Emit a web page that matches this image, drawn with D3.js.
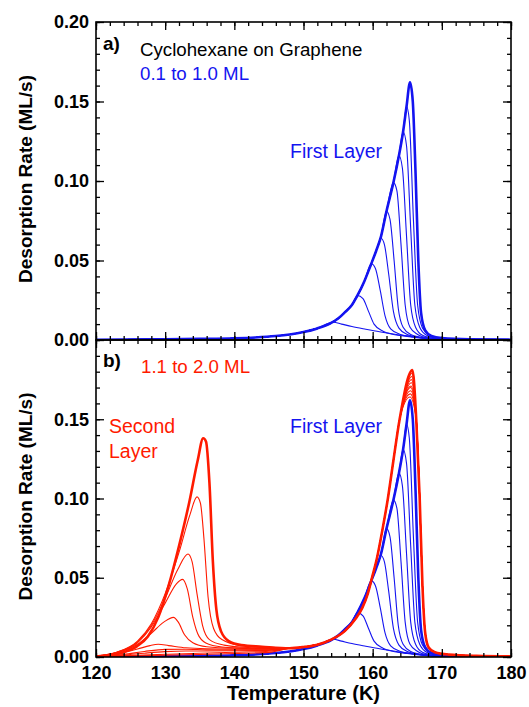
<!DOCTYPE html>
<html>
<head>
<meta charset="utf-8">
<script src="https://cdn.jsdelivr.net/npm/d3@7"></script>
<style>
  body { margin: 0; background: #fff; }
  svg { display: block; font-family: "Liberation Sans", Arial, Helvetica, sans-serif; }
</style>
</head>
<body>
<svg id="chart" width="529" height="707"></svg>
<script>
// ---- data ----
const blueCoverages = ["0.1", "0.2", "0.3", "0.4", "0.5", "0.6", "0.7", "0.8", "0.9", "1.0"];
const redCoverages = ["1.1", "1.2", "1.3", "1.4", "1.5", "1.6", "1.7", "1.8", "1.9", "2.0"];

// common leading edge of the first layer (blue, 1.0 ML)
const blueEdge = [
  [120, 0.0002], [130, 0.0004], [135, 0.0007], [140, 0.0011], [143, 0.0016], [146, 0.0025],
  [148, 0.0035], [150, 0.005], [152, 0.0073], [154, 0.0107], [155, 0.0135], [156, 0.0175],
  [157, 0.022], [157.8, 0.028], [158.8, 0.037], [159.8, 0.048], [160.5, 0.056], [161.2, 0.065],
  [162, 0.081], [163, 0.099], [163.8, 0.116], [164.4, 0.131], [164.9, 0.147], [165.4, 0.162]
];
// where each blue curve leaves the common edge
const blueCut = [152.5, 157.8, 159.8, 161.2, 162.0, 163.0, 163.8, 164.4, 164.9, 165.4];
// peak and trailing side of each blue curve
const blueTops = [
  [[153.4, 0.0102], [154.3, 0.0112], [155.5, 0.0100], [157, 0.0085], [159, 0.0068], [161, 0.0052], [163, 0.0038], [165, 0.0025], [167, 0.0014], [170, 0.0006], [175, 0.0002], [180, 0.0001]],
  [[157.8, 0.028], [158.6, 0.026], [159.4, 0.018], [160.2, 0.010], [161.5, 0.0055], [163, 0.0035], [165, 0.0022], [167, 0.0012], [170, 0.0005], [180, 0.0001]],
  [[159.8, 0.048], [160.4, 0.045], [161.1, 0.031], [161.8, 0.015], [162.6, 0.007], [164, 0.0035], [166, 0.002], [168, 0.0009], [171, 0.0003], [180, 0.0001]],
  [[161.2, 0.064], [161.7, 0.060], [162.3, 0.042], [163, 0.018], [163.8, 0.0075], [165, 0.0035], [167, 0.0015], [169, 0.0006], [180, 0.0001]],
  [[162.0, 0.081], [162.5, 0.076], [163.1, 0.050], [163.7, 0.020], [164.4, 0.008], [165.5, 0.0035], [167.5, 0.0013], [170, 0.0005], [180, 0.0001]],
  [[163.0, 0.099], [163.5, 0.094], [164.1, 0.060], [164.7, 0.022], [165.4, 0.008], [166.5, 0.0035], [168, 0.0013], [170, 0.0005], [180, 0.0001]],
  [[163.8, 0.116], [164.3, 0.108], [164.9, 0.065], [165.5, 0.022], [166.2, 0.008], [167.2, 0.003], [169, 0.0011], [172, 0.0003], [180, 0.0001]],
  [[164.4, 0.131], [164.9, 0.122], [165.5, 0.070], [166.1, 0.022], [166.8, 0.008], [167.8, 0.003], [169.5, 0.001], [173, 0.0003], [180, 0.0001]],
  [[164.9, 0.147], [165.3, 0.138], [165.9, 0.075], [166.5, 0.022], [167.2, 0.0075], [168.2, 0.003], [170, 0.001], [174, 0.0003], [180, 0.0001]],
  [[165.4, 0.162], [165.8, 0.150], [166.2, 0.105], [166.6, 0.050], [167.0, 0.017], [167.6, 0.006], [168.5, 0.0025], [170, 0.0012], [174, 0.0004], [180, 0.0002]]
];

// second-layer region (120-148 K) of each red curve
const redLow = [
  [[120, 0.0002], [125, 0.0006], [130, 0.0011], [135, 0.0016], [140, 0.0022], [145, 0.0029]],
  [[120, 0.0003], [125, 0.0009], [130, 0.0017], [135, 0.0024], [140, 0.003], [145, 0.0036]],
  [[120, 0.0004], [124, 0.0012], [127, 0.0024], [130, 0.0034], [133, 0.0038], [136, 0.0038], [140, 0.0039], [145, 0.0042]],
  [[120, 0.0005], [124, 0.0016], [127, 0.0035], [130, 0.0048], [133, 0.0049], [136, 0.0045], [140, 0.0044], [145, 0.0046]],
  [[120, 0.0006], [123, 0.002], [126, 0.005], [127.8, 0.0072], [129.0, 0.008], [130.5, 0.0072], [133, 0.0058], [136, 0.0052], [140, 0.005], [145, 0.005]],
  [[120, 0.0006], [123, 0.0025], [126, 0.008], [128, 0.015], [129.8, 0.022], [131.2, 0.025], [131.9, 0.022], [132.8, 0.014], [134, 0.009], [136, 0.0065], [140, 0.0055], [145, 0.0052]],
  [[120, 0.0006], [123, 0.0028], [126, 0.009], [128, 0.019], [130, 0.034], [131.6, 0.046], [132.5, 0.049], [133.2, 0.043], [134, 0.025], [134.9, 0.013], [136.3, 0.008], [139, 0.006], [143, 0.0055]],
  [[120, 0.0006], [123, 0.003], [126, 0.0095], [128, 0.02], [130, 0.037], [131.8, 0.055], [133.3, 0.065], [133.9, 0.06], [134.6, 0.04], [135.4, 0.02], [136.4, 0.011], [138.5, 0.0075], [142, 0.006]],
  [[120, 0.0005], [123, 0.003], [126, 0.01], [128, 0.021], [130, 0.04], [132, 0.066], [133.6, 0.09], [134.6, 0.101], [135.1, 0.097], [135.6, 0.075], [136.2, 0.038], [137, 0.018], [138.2, 0.011], [141, 0.0072], [145, 0.0062]],
  [[120, 0.0003], [122, 0.0012], [124, 0.003], [126, 0.007], [127.5, 0.013], [129, 0.025], [130.5, 0.045], [132, 0.07], [133.5, 0.098], [134.7, 0.124], [135.5, 0.138], [135.9, 0.136], [136.4, 0.11], [136.9, 0.06], [137.4, 0.03], [138.1, 0.016], [139.2, 0.01], [141, 0.0075], [144, 0.0065]]
];
// common first-layer leading edge of the red curves
const redEdge = [
  [148, 0.0055], [150, 0.0063], [152, 0.0078], [154, 0.011], [156, 0.0165], [157.5, 0.024],
  [158.5, 0.031], [159.3, 0.040], [159.9, 0.050], [160.6, 0.062], [161.4, 0.080], [162.2, 0.100],
  [163.0, 0.124], [163.9, 0.150]
];
const redPeakT = [165.4, 165.45, 165.5, 165.5, 165.55, 165.6, 165.6, 165.65, 165.7, 165.75];
const redPeakRate = [0.164, 0.166, 0.168, 0.170, 0.171, 0.173, 0.175, 0.177, 0.179, 0.181];
// common falling edge of the red curves
const redFall = [
  [166.3, 0.150], [166.8, 0.100], [167.2, 0.045], [167.6, 0.015], [168.1, 0.006], [169, 0.003],
  [171, 0.0015], [175, 0.0007], [180, 0.0004]
];

const xTicks = [120, 130, 140, 150, 160, 170, 180];
const yTicks = [0, 0.05, 0.10, 0.15, 0.20];

// ---- build the series ----
const blueSeries = blueCoverages.map((c, i) =>
  blueEdge.filter(d => d[0] < blueCut[i] - 0.05).concat(blueTops[i]));
const redSeries = redCoverages.map((c, i) =>
  redLow[i].concat(redEdge, [[redPeakT[i], redPeakRate[i]]], redFall));

// ---- layout ----
const svg = d3.select("#chart");
const left = 96, right = 511;
const panels = [
  { id: "a", top: 22, bottom: 340 },
  { id: "b", top: 340, bottom: 657 }
];
const blue = "#1414f0";
const red = "#ff1a00";
const font = "'Liberation Sans', Arial, Helvetica, sans-serif";

const x = d3.scaleLinear().domain([120, 180]).range([left, right]);
panels.forEach(p => {
  p.y = d3.scaleLinear().domain([0, 0.2]).range([p.bottom, p.top]);
});

const line = y => d3.line()
  .x(d => x(d[0]))
  .y(d => y(d[1]))
  .curve(d3.curveMonotoneX);

// clip paths
const defs = svg.append("defs");
panels.forEach(p => {
  defs.append("clipPath").attr("id", "clip-" + p.id)
    .append("rect")
    .attr("x", left).attr("y", p.top)
    .attr("width", right - left).attr("height", p.bottom - p.top);
});

function drawSeries(p, series, color) {
  const g = svg.append("g").attr("clip-path", `url(#clip-${p.id})`);
  series.forEach((s, i) => {
    const last = i === series.length - 1;
    g.append("path")
      .datum(s)
      .attr("fill", "none")
      .attr("stroke", color)
      .attr("stroke-width", last ? 2.6 : 1.1)
      .attr("stroke-linejoin", "round")
      .attr("d", line(p.y));
  });
}

drawSeries(panels[0], blueSeries, blue);
drawSeries(panels[1], blueSeries, blue);
drawSeries(panels[1], redSeries, red);

// ---- axes (ticks pointing inward) ----
const minorX = d3.range(120, 181, 2);
const minorY = d3.range(0, 0.2001, 0.01);

panels.forEach((p, k) => {
  // bottom
  svg.append("g").attr("transform", `translate(0,${p.bottom})`)
    .call(d3.axisBottom(x).tickValues(minorX).tickSize(-4).tickFormat(""));
  svg.append("g").attr("transform", `translate(0,${p.bottom})`)
    .call(d3.axisBottom(x).tickValues(xTicks).tickSize(-8).tickPadding(9)
      .tickFormat(k === 1 ? d3.format("d") : ""));
  // top
  svg.append("g").attr("transform", `translate(0,${p.top})`)
    .call(d3.axisTop(x).tickValues(minorX).tickSize(-4).tickFormat(""));
  svg.append("g").attr("transform", `translate(0,${p.top})`)
    .call(d3.axisTop(x).tickValues(xTicks).tickSize(-8).tickFormat(""));
  // left
  svg.append("g").attr("transform", `translate(${left},0)`)
    .call(d3.axisLeft(p.y).tickValues(minorY).tickSize(-4).tickFormat(""));
  svg.append("g").attr("transform", `translate(${left},0)`)
    .call(d3.axisLeft(p.y).tickValues(k === 0 ? yTicks : yTicks.slice(0, 4))
      .tickSize(-8).tickPadding(7).tickFormat(d3.format(".2f")));
  // right
  svg.append("g").attr("transform", `translate(${right},0)`)
    .call(d3.axisRight(p.y).tickValues(minorY).tickSize(-4).tickFormat(""));
  svg.append("g").attr("transform", `translate(${right},0)`)
    .call(d3.axisRight(p.y).tickValues(yTicks).tickSize(-8).tickFormat(""));

  // frame
  svg.append("rect")
    .attr("x", left).attr("y", p.top)
    .attr("width", right - left).attr("height", p.bottom - p.top)
    .attr("fill", "none").attr("stroke", "#000").attr("stroke-width", 1.6);

  // axis title
  svg.append("text")
    .attr("transform", `translate(32,${(p.top + p.bottom) / 2 - 2}) rotate(-90)`)
    .attr("text-anchor", "middle")
    .style("font-family", font)
    .style("font-weight", "bold")
    .style("font-size", "19px")
    .text("Desorption Rate (ML/s)");
});

svg.selectAll(".domain").remove();
svg.selectAll(".tick line").attr("stroke", "#000").attr("stroke-width", 1.3);
svg.selectAll(".tick text")
  .style("font-family", font)
  .style("font-weight", "bold")
  .style("font-size", "18px")
  .attr("fill", "#000");

svg.append("text")
  .attr("x", (left + right) / 2).attr("y", 700)
  .attr("text-anchor", "middle")
  .style("font-family", font)
  .style("font-weight", "bold")
  .style("font-size", "20px")
  .text("Temperature (K)");

// ---- annotations ----
const notes = [
  { t: "a)", x: 103, y: 50, c: "#000", w: "bold", s: 19 },
  { t: "Cyclohexane on Graphene", x: 140, y: 56, c: "#000", w: "normal", s: 18.7 },
  { t: "0.1 to 1.0 ML", x: 140, y: 80, c: blue, w: "normal", s: 18.7 },
  { t: "First Layer", x: 290, y: 158, c: blue, w: "normal", s: 19.5 },
  { t: "b)", x: 103, y: 367, c: "#000", w: "bold", s: 19 },
  { t: "1.1 to 2.0 ML", x: 141, y: 373, c: red, w: "normal", s: 18.7 },
  { t: "Second", x: 109, y: 433, c: red, w: "normal", s: 19.5 },
  { t: "Layer", x: 109, y: 458, c: red, w: "normal", s: 19.5 },
  { t: "First Layer", x: 290, y: 433, c: blue, w: "normal", s: 19.5 }
];
svg.selectAll(".note")
  .data(notes)
  .enter()
  .append("text")
  .attr("class", "note")
  .attr("x", d => d.x)
  .attr("y", d => d.y)
  .attr("fill", d => d.c)
  .style("font-family", font)
  .style("font-weight", d => d.w)
  .style("font-size", d => d.s + "px")
  .text(d => d.t);
</script>
</body>
</html>
